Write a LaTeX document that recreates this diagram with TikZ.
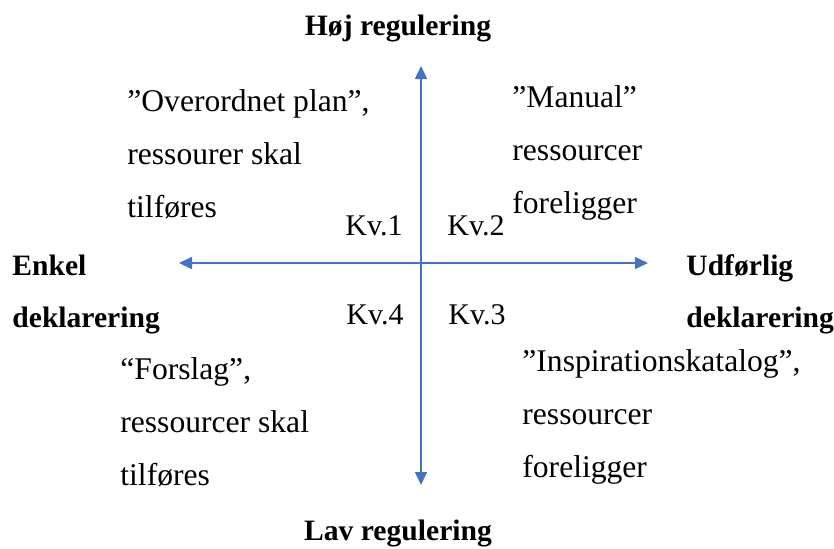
\documentclass[tikz,border=0pt]{standalone}
\usepackage{fontspec}
\setmainfont{Liberation Serif}
\usetikzlibrary{arrows.meta}
\definecolor{axisblue}{HTML}{4472C4}
\begin{document}
\begin{tikzpicture}[x=0.5pt,y=-0.5pt,
  axis/.style={draw=axisblue,line width=0.75pt,{Triangle[length=6.5pt,width=6pt]}-{Triangle[length=6.5pt,width=6pt]}},
  body/.style={inner sep=0pt,anchor=base west,align=left,font=\fontsize{15.8}{26.5}\selectfont},
  head/.style={inner sep=0pt,anchor=base west,align=left,font=\fontsize{14.8}{26}\selectfont\bfseries},
  kv/.style={inner sep=0pt,anchor=base west,font=\fontsize{15}{18}\selectfont}]
\useasboundingbox (0,0) rectangle (834,548);
% axes
\coordinate (top) at (421,66);
\coordinate (bottom) at (421,485);
\coordinate (left) at (179,263);
\coordinate (right) at (648,263);
\draw[axis] (bottom) -- (top);
\draw[axis] (left) -- (right);
% axis labels (multi-line nodes are placed by their last baseline)
\node[head,anchor=base] (hoj) at (398,35) {Høj regulering};
\node[head,anchor=base] (lav) at (398,540) {Lav regulering};
\node[head] (enkel) at (12,327) {Enkel\\deklarering};
\node[head] (udf) at (686,327) {Udførlig\\deklarering};
% quadrant labels
\node[kv] (kv1) at (345,235) {Kv.1};
\node[kv] (kv2) at (447,235) {Kv.2};
\node[kv] (kv4) at (346,324) {Kv.4};
\node[kv] (kv3) at (448,324) {Kv.3};
% quadrant texts
\node[body] (q1) at (127,217) {”Overordnet plan”,\\ressourer skal\\tilføres};
\node[body] (q2) at (512,213) {”Manual”\\ressourcer\\foreligger};
\node[body] (q4) at (120,485) {“Forslag”,\\ressourcer skal\\tilføres};
\node[body] (q3) at (522,477) {”Inspirationskatalog”,\\ressourcer\\foreligger};
\end{tikzpicture}
\end{document}
